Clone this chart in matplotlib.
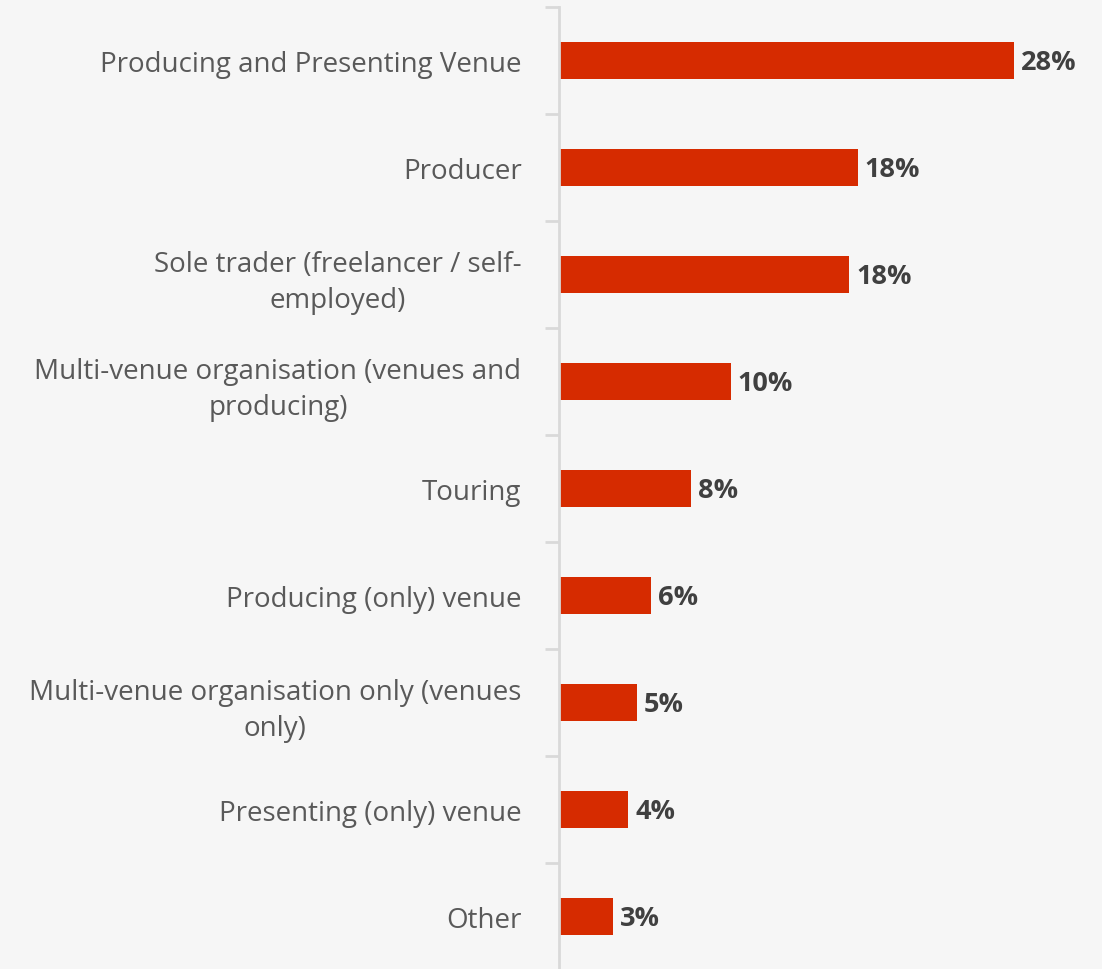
import matplotlib
matplotlib.use("Agg")
import matplotlib.pyplot as plt
import numpy as np

# values, labels shown rounded
categories = [
    "Producing and Presenting Venue",
    "Producer",
    "Sole trader (freelancer / self-\nemployed)",
    "Multi-venue organisation (venues and\nproducing)",
    "Touring",
    "Producing (only) venue",
    "Multi-venue organisation only (venues\nonly)",
    "Presenting (only) venue",
    "Other",
]
values = [27.6, 18.1, 17.6, 10.4, 8.0, 5.6, 4.7, 4.2, 3.3]

bg = "#f6f6f6"
bar_color = "#d62b00"
grey_line = "#d9d9d9"

plt.rcParams['font.family'] = ['Open Sans', 'DejaVu Sans']

W, H = 1102, 970
fig = plt.figure(figsize=(W / 100, H / 100), dpi=100)
fig.patch.set_facecolor(bg)
ax = fig.add_axes([559 / W, -1 / H, (W - 559) / W, 963 / H])
ax.set_facecolor(bg)

y = np.arange(len(categories))
ax.barh(y, values, height=0.355, color=bar_color, zorder=2)

for yi, v in zip(y, values):
    ax.annotate("{:.0f}%".format(v), (v, yi), xytext=(5, -1), textcoords="offset points",
                ha="left", va="center", fontsize=19.5, fontweight="bold", color="#404040")

ax.set_ylim(len(categories) - 0.5, -0.5)
ax.set_xlim(0, (W - 559) / 16.5)

ax.set_yticks(y)
ax.set_yticklabels(categories, fontsize=20, color="#595959", multialignment="center",
                   linespacing=1.4)
ax.set_yticks(np.arange(len(categories) + 1) - 0.5, minor=True)
ax.tick_params(axis="y", which="major", length=0, pad=27)
ax.tick_params(axis="y", which="minor", length=10, width=2, color=grey_line)
ax.set_xticks([])

for s in ["top", "right", "bottom"]:
    ax.spines[s].set_visible(False)
ax.spines["left"].set_color(grey_line)
ax.spines["left"].set_linewidth(2)

fig.savefig("out.png", dpi=100, facecolor=bg)
